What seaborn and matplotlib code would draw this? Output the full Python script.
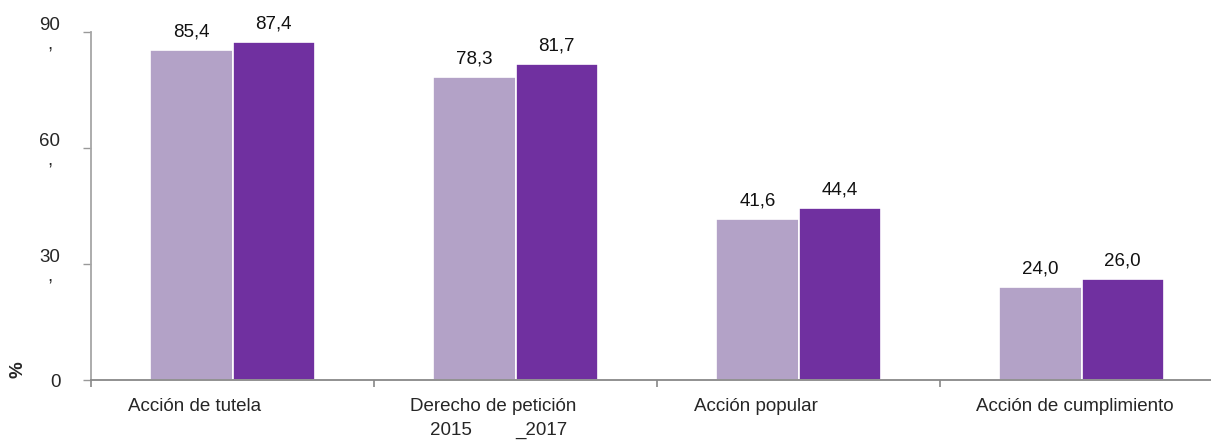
import numpy as np
import pandas as pd
import matplotlib
matplotlib.use("Agg")
import matplotlib.pyplot as plt
import matplotlib.transforms as mtransforms
import seaborn as sns

categorias = ["Acción de tutela", "Derecho de petición", "Acción popular", "Acción de cumplimiento"]
valores_2015 = [85.4, 78.3, 41.6, 24.0]
valores_2017 = [87.4, 81.7, 44.4, 26.0]
anios = ["2015", "2017"]
y_ticks = [0, 30, 60, 90]
y_labels = ["0", "30\n,", "60\n,", "90\n,"]

df = pd.DataFrame({
    "categoria": categorias * 2,
    "valor": valores_2015 + valores_2017,
    "anio": [anios[0]] * 4 + [anios[1]] * 4,
})

sns.set_style("white")
plt.rcParams["font.family"] = ["Liberation Sans", "DejaVu Sans"]

fig = plt.figure(figsize=(12.11, 4.4), dpi=100)
ax = fig.add_axes([91 / 1211, 60 / 440, 1132 / 1211, 348 / 440])

sns.barplot(data=df, x="categoria", y="valor", hue="anio",
            palette=["#B3A2C7", "#7030A0"], saturation=1, width=0.58,
            edgecolor="white", linewidth=1.2, ax=ax, legend=False)

for cont in ax.containers:
    ax.bar_label(cont, labels=[f"{v:.1f}".replace(".", ",") for v in cont.datavalues],
                 padding=7, fontsize=13.5, color="#111111")

ax.set_xlim(-0.5, 3.5)
ax.set_ylim(0, 90)
ax.set_xlabel("")
ax.set_ylabel("")

ax.set_yticks(y_ticks)
ax.set_yticklabels(y_labels, fontsize=13.5, multialignment="center")
ax.tick_params(axis="y", direction="out", length=6, width=1, color="#999999", pad=16, left=True)

ax.set_xticks(range(len(categorias)))
ax.set_xticklabels(categorias, fontsize=13.5, ha="left")
ax.tick_params(axis="x", which="major", length=0, pad=13)
ax.set_xticks([-0.5, 0.5, 1.5, 2.5, 3.5], minor=True)
ax.tick_params(axis="x", which="minor", direction="out", length=5, width=1.2, color="#888888", bottom=True)
off = mtransforms.ScaledTranslation(-1.05, 0, fig.dpi_scale_trans)
for lab in ax.get_xticklabels():
    lab.set_transform(lab.get_transform() + off)

for s in ["top", "right"]:
    ax.spines[s].set_visible(False)
ax.spines["left"].set_color("#A6A6A6")
ax.spines["left"].set_linewidth(1.3)
ax.spines["bottom"].set_color("#888888")
ax.spines["bottom"].set_linewidth(1.3)

fig.text(18 / 1211, 70 / 440, "%", rotation=90, fontsize=13.5, fontweight="bold",
         ha="center", va="center")
fig.text(430 / 1211, 10 / 440, anios[0], fontsize=13.5, ha="left", va="center")
fig.text(515 / 1211, 10 / 440, "_" + anios[1], fontsize=13.5, ha="left", va="center")

fig.savefig("out.png", dpi=100)
